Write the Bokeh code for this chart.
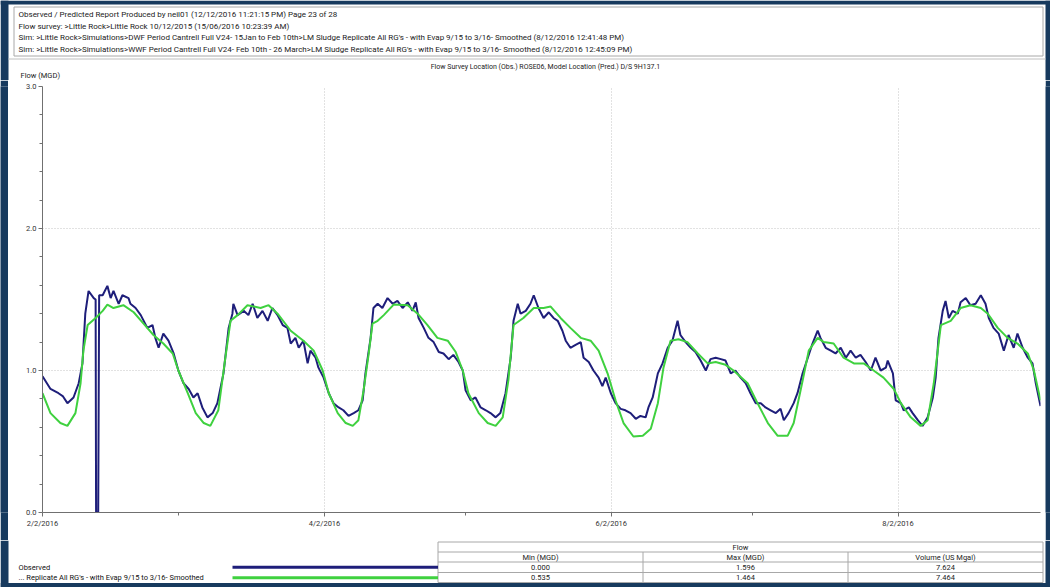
import pandas as pd
from bokeh.plotting import figure
from bokeh.layouts import column, row
from bokeh.models import Range1d, FixedTicker, NumeralTickFormatter
from bokeh.core.properties import value
from bokeh.embed import file_html
from bokeh.resources import INLINE

FONT = "Roboto"
NAVY = "#173a5e"
OBS_COLOR = "#1e1e7a"
PRED_COLOR = "#3fd13f"
RULE = "#a8a8a8"
INK = "#222222"

# ---- report header -------------------------------------------------------
header_lines = [
    "Observed / Predicted Report Produced by neil01 (12/12/2016 11:21:15 PM) Page 23 of 28",
    "Flow survey: >Little Rock>Little Rock 10/12/2015 (15/06/2016 10:23:39 AM)",
    "Sim: >Little Rock>Simulations>DWF Period Cantrell Full V24- 15Jan to Feb 10th>LM Sludge Replicate All RG's - with Evap  9/15 to 3/16- Smoothed (8/12/2016 12:41:48 PM)",
    "Sim: >Little Rock>Simulations>WWF Period Cantrell Full V24- Feb 10th - 26 March>LM Sludge Replicate All RG's - with Evap  9/15 to 3/16- Smoothed (8/12/2016 12:45:09 PM)",
]
chart_title = "Flow Survey Location (Obs.) ROSE06, Model Location (Pred.) D/S 9H137.1"
y_title = "Flow (MGD)"

# ---- time axis (days after 2/2/2016) -------------------------------------
start = pd.Timestamp("2016-02-02")
major_dates = ["2016-02-02", "2016-04-02", "2016-06-02", "2016-08-02"]
minor_dates = ["2016-03-02", "2016-05-02", "2016-07-02"]
x_end_day = 212.3

y_major = [0.0, 1.0, 2.0, 3.0]
y_minor = [0.2, 0.4, 0.6, 0.8, 1.2, 1.4, 1.6, 1.8, 2.2, 2.4, 2.6, 2.8]

# ---- observed flow (MGD) --------------------------------------------------
obs_day = [
    0.0, 1.7, 3.4, 4.3, 5.3, 6.6, 7.7, 8.5, 9.1, 9.8, 10.9, 11.3, 11.4, 11.85, 12.05,
    12.8, 13.8, 14.5, 15.1, 16.2, 17.0, 18.3, 18.7, 19.8, 20.9, 22.3, 23.4, 24.0, 24.7,
    25.7, 26.8, 27.9, 28.9, 30.0, 31.1, 32.1, 33.0, 34.0, 35.1, 36.2, 37.2, 38.5, 39.6,
    40.4, 40.6, 41.5, 42.8, 43.8, 44.7, 45.7, 46.8, 47.9, 48.9, 50.0, 51.1, 52.1, 52.8,
    53.8, 54.5, 55.5, 56.4, 57.0, 58.1, 58.7, 59.8, 60.9, 61.9, 63.0, 64.0, 65.1, 66.2,
    67.2, 68.1, 68.7, 69.8, 70.4, 71.3, 72.3, 73.4, 74.5, 75.5, 76.6, 77.7, 78.7, 79.4,
    80.0, 81.1, 82.1, 83.2, 84.3, 85.3, 86.4, 87.4, 88.5, 89.4, 90.0, 91.1, 92.1, 93.2,
    94.3, 95.3, 96.4, 97.4, 98.5, 99.6, 100.2, 101.1, 101.7, 102.8, 103.8, 104.5, 105.5,
    106.6, 107.7, 108.7, 109.6, 110.6, 111.3, 112.3, 113.4, 114.5, 115.1, 116.2, 117.2,
    118.3, 119.1, 119.8, 120.9, 121.9, 123.0, 124.0, 125.1, 126.2, 127.2, 128.3, 128.9,
    129.8, 130.9, 131.9, 133.0, 134.0, 134.7, 135.1, 135.7, 136.8, 137.9, 138.9, 140.0,
    141.1, 142.1, 143.2, 144.3, 145.3, 146.4, 147.4, 148.5, 149.6, 150.6, 151.7, 152.8,
    153.8, 154.9, 156.0, 157.0, 157.7, 158.7, 159.8, 160.6, 161.7, 162.8, 163.8, 164.9,
    165.5, 166.6, 167.7, 168.7, 169.8, 170.9, 171.9, 173.0, 174.0, 175.1, 176.2, 177.2,
    178.3, 179.4, 179.8, 180.9, 181.5, 182.6, 183.2, 184.3, 185.1, 186.2, 187.2, 188.3,
    189.4, 190.0, 190.6, 191.5, 192.1, 192.8, 193.6, 194.7, 195.3, 196.4, 197.4, 198.5,
    199.6, 200.6, 201.3, 202.3, 203.4, 204.5, 205.5, 206.6, 207.4, 208.5, 209.6, 210.6,
    211.3, 212.3,
]
obs_flow = [
    0.96, 0.87, 0.84, 0.82, 0.77, 0.81, 0.91, 1.05, 1.40, 1.56, 1.51, 1.50, 0.0, 0.0, 1.53,
    1.53, 1.596, 1.51, 1.56, 1.47, 1.53, 1.51, 1.47, 1.44, 1.39, 1.30, 1.32, 1.23, 1.16,
    1.26, 1.21, 1.12, 1.00, 0.91, 0.87, 0.81, 0.84, 0.74, 0.67, 0.70, 0.77, 0.98, 1.30,
    1.40, 1.47, 1.39, 1.42, 1.39, 1.47, 1.37, 1.42, 1.35, 1.44, 1.39, 1.32, 1.30, 1.19,
    1.23, 1.16, 1.21, 1.05, 1.14, 1.09, 1.02, 0.95, 0.84, 0.77, 0.74, 0.72, 0.68, 0.70,
    0.72, 0.79, 0.98, 1.23, 1.44, 1.47, 1.44, 1.51, 1.47, 1.49, 1.44, 1.48, 1.42, 1.48,
    1.37, 1.30, 1.23, 1.20, 1.13, 1.12, 1.08, 1.11, 1.06, 1.00, 0.86, 0.79, 0.81, 0.74,
    0.72, 0.70, 0.67, 0.70, 0.84, 1.09, 1.35, 1.47, 1.40, 1.42, 1.47, 1.53, 1.44,
    1.37, 1.41, 1.37, 1.35, 1.28, 1.21, 1.16, 1.18, 1.20, 1.09, 1.06, 1.00,
    0.95, 0.89, 0.95, 0.84, 0.77, 0.73, 0.72, 0.70, 0.66, 0.68, 0.67, 0.74,
    0.81, 0.98, 1.05, 1.16, 1.21, 1.30, 1.35, 1.25, 1.20, 1.16, 1.13, 1.07,
    1.00, 1.08, 1.09, 1.08, 1.07, 0.98, 1.00, 0.95, 0.91, 0.84, 0.77, 0.77,
    0.74, 0.72, 0.70, 0.73, 0.65, 0.70, 0.77, 0.84, 0.98, 1.09, 1.19, 1.28,
    1.23, 1.16, 1.14, 1.12, 1.16, 1.09, 1.14, 1.09, 1.11, 1.06, 1.00, 1.09,
    1.00, 1.02, 1.07, 0.98, 0.79, 0.77, 0.72, 0.74, 0.70, 0.65, 0.61, 0.67,
    0.81, 0.95, 1.23, 1.42, 1.49, 1.37, 1.42, 1.40, 1.48, 1.51, 1.46, 1.47,
    1.53, 1.47, 1.37, 1.30, 1.26, 1.14, 1.25, 1.16, 1.26, 1.16, 1.09, 1.05,
    0.91, 0.75,
]

# ---- predicted flow (MGD), smoothed evap run -------------------------------
pred_day = [
    0.0, 1.7, 3.8, 5.3, 7.0, 8.1, 8.7, 9.6, 11.3, 12.8, 13.8, 15.1, 17.2, 19.4, 21.5,
    23.6, 25.7, 27.7, 28.9, 30.9, 32.6, 34.3, 35.7, 37.4, 38.9, 40.0, 41.5, 43.6, 46.4,
    48.1, 50.0, 52.8, 55.5, 57.7, 59.6, 60.9, 62.8, 64.5, 66.0, 67.2, 68.3, 69.4, 70.2,
    71.3, 72.6, 74.7, 77.7, 79.8, 81.9, 84.0, 86.2, 87.9, 89.4, 90.6, 92.8, 94.7, 96.4,
    97.9, 99.1, 100.2, 102.3, 104.5, 106.6, 108.1, 110.2, 112.3, 114.5, 116.6, 118.3,
    120.2, 121.9, 123.6, 125.7, 127.7, 129.4, 130.9, 132.1, 133.6, 135.3, 137.2, 139.4,
    141.5, 143.2, 145.3, 147.0, 150.0, 152.1, 154.3, 156.4, 158.5, 159.8, 161.7, 163.0,
    164.9, 166.2, 168.3, 170.4, 172.6, 174.7, 176.8, 178.9, 181.1, 182.6, 184.7, 186.8,
    188.3, 189.6, 191.1, 193.2, 195.3, 197.4, 199.6, 201.1, 203.2, 205.3, 207.4, 209.6,
    210.9, 212.3,
]
pred_flow = [
    0.84, 0.70, 0.63, 0.61, 0.70, 0.91, 1.14, 1.32, 1.37, 1.42, 1.464, 1.44, 1.46, 1.41, 1.33,
    1.25, 1.19, 1.12, 1.00, 0.84, 0.70, 0.63, 0.61, 0.72, 1.09, 1.35, 1.39, 1.46, 1.44,
    1.46, 1.40, 1.28, 1.21, 1.14, 1.00, 0.84, 0.70, 0.63, 0.61, 0.65, 0.86, 1.12, 1.33,
    1.35, 1.39, 1.464, 1.46, 1.40, 1.32, 1.23, 1.21, 1.13, 1.00, 0.84, 0.70, 0.63, 0.61,
    0.67, 0.93, 1.32, 1.37, 1.44, 1.44, 1.45, 1.37, 1.30, 1.23, 1.21, 1.14,
    0.98, 0.79, 0.63, 0.535, 0.54, 0.59, 0.77, 1.02, 1.21, 1.22, 1.20, 1.12,
    1.05, 1.06, 1.04, 1.00, 0.91, 0.77, 0.63, 0.54, 0.54, 0.63, 0.93, 1.14,
    1.23, 1.20, 1.19, 1.09, 1.05, 1.05, 1.00, 0.95, 0.87, 0.77, 0.67, 0.61,
    0.65, 0.91, 1.32, 1.35, 1.44, 1.46, 1.44, 1.40, 1.30, 1.23, 1.19, 1.12,
    1.00, 0.79,
]

series_names = ["Observed", "... Replicate All RG's - with Evap  9/15 to 3/16- Smoothed"]
table_columns = ["Min (MGD)", "Max (MGD)", "Volume (US Mgal)"]
volumes = [7.624, 7.464]


def day_of(d):
    return (pd.Timestamp(d) - start).days


def label_of(d):
    t = pd.Timestamp(d)
    return f"{t.month}/{t.day}/{t.year}"


def panel(width, height, y_top, y_bottom):
    """Bare figure whose data space is page pixels; y is stored negated so ranges run upward."""
    f = figure(width=width, height=height,
               x_range=Range1d(0, width), y_range=Range1d(-y_bottom, -y_top),
               x_axis_location=None, y_axis_location=None,
               min_border=0, toolbar_location=None, output_backend="svg",
               outline_line_color=None, background_fill_color="white",
               border_fill_color="white")
    f.grid.visible = False
    return f


def box(f, x0, x1, y0, y1, fill, line=None):
    f.quad(left=[x0], right=[x1], top=[-y0], bottom=[-y1], fill_color=fill,
           line_color=line, line_width=1)


def hline(f, x0, x1, y, color=RULE, width=1):
    f.segment(x0=[x0], y0=[-y], x1=[x1], y1=[-y], line_color=color, line_width=width)


def vline(f, x, y0, y1, color=RULE):
    f.segment(x0=[x], y0=[-y0], x1=[x], y1=[-y1], line_color=color, line_width=1)


def txt(f, x, y, s, size="7.5px", align="left", color=INK):
    f.text(x=[x], y=[-y], text=[s], text_font=value(FONT), text_font_size=size,
           text_align=align, text_baseline="middle", text_color=color)


HDR_H = 80
MID_H = 460
FTR_H = 47

# ---- header panel ----------------------------------------------------------
hdr = panel(1050, HDR_H, 0, HDR_H)
box(hdr, 0, 8, 0, HDR_H, NAVY)
box(hdr, 0, 1050, 0, 4, NAVY)
box(hdr, 1045, 1050, 0, HDR_H, NAVY)
box(hdr, 13.5, 1042.5, 6.5, 55.5, "white", RULE)
hline(hdr, 8, 1045, 58.5, "#c0c0c0")
for i, s in enumerate(header_lines):
    txt(hdr, 18, 14 + i * 11.6, s, size="8px")
txt(hdr, 545, 66, chart_title, size="7px", align="center")
txt(hdr, 20, 75, y_title, size="7.5px")

# ---- side strips -----------------------------------------------------------
def strip(width):
    f = figure(width=width, height=MID_H, x_axis_location=None, y_axis_location=None,
               min_border=0, toolbar_location=None, output_backend="svg",
               outline_line_color=None, background_fill_color=NAVY,
               border_fill_color=NAVY)
    f.grid.visible = False
    return f


strip_l = strip(8)
strip_r = strip(5)

# ---- flow chart ------------------------------------------------------------
p = figure(width=1037, height=MID_H, x_range=Range1d(0, x_end_day), y_range=Range1d(0, 3.0),
           min_border_left=34, min_border_right=5, min_border_top=6, min_border_bottom=28,
           toolbar_location=None, output_backend="svg", outline_line_color=None,
           background_fill_color="white", border_fill_color="white")

p.xaxis.ticker = FixedTicker(ticks=[day_of(d) for d in major_dates],
                             minor_ticks=[day_of(d) for d in minor_dates])
p.xaxis.major_label_overrides = {day_of(d): label_of(d) for d in major_dates}
p.yaxis.ticker = FixedTicker(ticks=y_major, minor_ticks=y_minor)
p.yaxis.formatter = NumeralTickFormatter(format="0.0")

for ax in (p.xaxis, p.yaxis):
    ax.axis_line_color = "#707070"
    ax.major_tick_line_color = "#707070"
    ax.minor_tick_line_color = "#707070"
    ax.major_tick_in = 0
    ax.minor_tick_in = 0
    ax.major_tick_out = 4
    ax.minor_tick_out = 3
    ax.major_label_text_font = FONT
    ax.major_label_text_font_size = "7.5px"
    ax.major_label_text_color = "#333333"
    ax.major_label_standoff = 2

p.grid.grid_line_color = "#c4c4c4"
p.grid.grid_line_dash = "1 2"
p.grid.grid_line_width = 1

p.line(obs_day, obs_flow, line_color=OBS_COLOR, line_width=2)
p.line(pred_day, pred_flow, line_color=PRED_COLOR, line_width=2)

# ---- legend / statistics panel ---------------------------------------------
Y0 = HDR_H + MID_H
ftr = panel(1050, FTR_H, Y0, Y0 + FTR_H)
box(ftr, 0, 8, Y0, Y0 + FTR_H, NAVY)
box(ftr, 1045, 1050, Y0, Y0 + FTR_H, NAVY)
box(ftr, 0, 1050, 582.5, Y0 + FTR_H, NAVY)

col_x = [437.5, 642.5, 847.5, 1042.5]
row_y = [541.5, 551.5, 561.5, 572.0, 582.0]
for yy in row_y:
    hline(ftr, col_x[0], col_x[-1], yy)
vline(ftr, col_x[0], row_y[0], row_y[-1])
vline(ftr, col_x[1], row_y[1], row_y[-1])
vline(ftr, col_x[2], row_y[1], row_y[-1])
vline(ftr, col_x[3], row_y[0], row_y[-1])

txt(ftr, (col_x[0] + col_x[-1]) / 2, 546.5, "Flow", align="center")
for j, name in enumerate(table_columns):
    txt(ftr, (col_x[j] + col_x[j + 1]) / 2, 556.5, name, align="center")

stats = [
    [min(obs_flow), max(obs_flow), volumes[0]],
    [min(pred_flow), max(pred_flow), volumes[1]],
]
colors = [OBS_COLOR, PRED_COLOR]
for i, (name, vals) in enumerate(zip(series_names, stats)):
    yc = 566.8 + i * 10.5
    txt(ftr, 18, yc, name, color="#111111")
    hline(ftr, 232, col_x[0], yc, colors[i], 3)
    for j, v in enumerate(vals):
        txt(ftr, (col_x[j] + col_x[j + 1]) / 2, yc, f"{v:.3f}", align="center")

layout = column(hdr, row(strip_l, p, strip_r), ftr)

open("out.html", "w").write(file_html(layout, INLINE))
